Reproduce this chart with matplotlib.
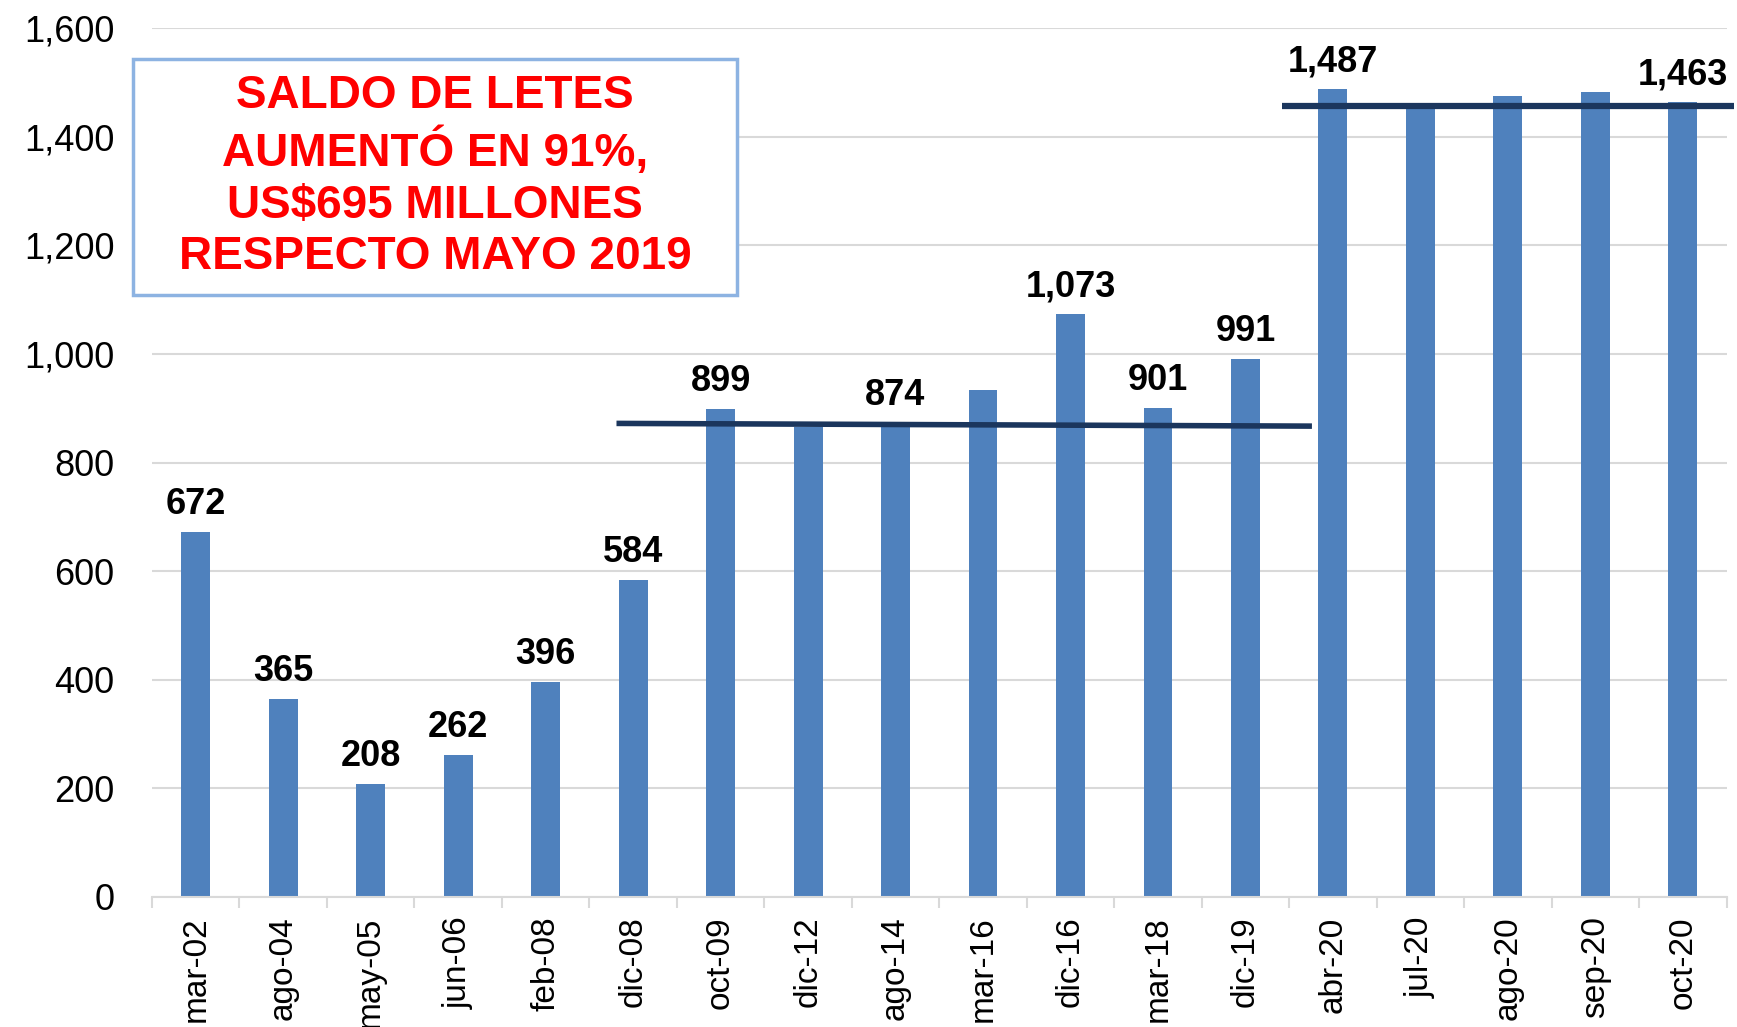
import matplotlib.pyplot as plt
from matplotlib.patches import Rectangle

plt.rcParams['font.family'] = ['Liberation Sans', 'DejaVu Sans']

categories = ['mar-02', 'ago-04', 'may-05', 'jun-06', 'feb-08', 'dic-08', 'oct-09',
              'dic-12', 'ago-14', 'mar-16', 'dic-16', 'mar-18', 'dic-19', 'abr-20',
              'jul-20', 'ago-20', 'sep-20', 'oct-20']
values = [672, 365, 208, 262, 396, 584, 899, 866, 874, 934, 1073, 901, 991, 1487,
          1452, 1474, 1482, 1463]
labeled = [True, True, True, True, True, True, True, False, True, False, True, True,
           True, True, False, False, False, True]

# trend lines drawn over the bars (x in category units)
low_line_x = [4.81, 12.76]
low_line_y = [872, 867]
high_line_x = [12.42, 17.58]
high_line_y = [1456, 1456]

box_lines = ['SALDO DE LETES', 'AUMENTÓ EN 91%,', 'US$695 MILLONES', 'RESPECTO MAYO 2019']

bar_color = '#4F81BD'
line_color = '#1B365D'
grid_color = '#D9D9D9'

fig = plt.figure(figsize=(17.37, 10.27), dpi=100)
ax = fig.add_axes([0.0875, 0.1266, 0.9065, 0.8461])

x = list(range(len(categories)))
ax.bar(x, values, width=0.33, color=bar_color, zorder=2)

for xi, v, show in zip(x, values, labeled):
    if show:
        ax.annotate(f'{v:,}', (xi, v), xytext=(0, 7), textcoords='offset points',
                    ha='center', va='bottom', fontsize=26, fontweight='bold', zorder=4)

ax.plot(low_line_x, low_line_y, color=line_color, lw=4, zorder=3, solid_capstyle='butt')
ax.plot(high_line_x, high_line_y, color=line_color, lw=4.5, zorder=3, clip_on=False,
        solid_capstyle='butt')

ax.set_xlim(-0.5, len(categories) - 0.5)
ax.set_ylim(0, 1600)
ax.set_yticks(range(0, 1601, 200))
ax.set_yticklabels([f'{t:,}' for t in range(0, 1601, 200)])
ax.yaxis.grid(True, color=grid_color, lw=1.5, zorder=0)
ax.set_axisbelow(True)

ax.set_xticks(x)
ax.set_xticklabels(categories, rotation=90)
ax.set_xticks([i - 0.5 for i in range(len(categories) + 1)], minor=True)
ax.tick_params(axis='x', which='major', length=0, pad=14, labelsize=24)
ax.tick_params(axis='x', which='minor', length=8, width=1.5, color=grid_color)
ax.tick_params(axis='y', length=0, pad=27, labelsize=26)

for side in ['top', 'right', 'left']:
    ax.spines[side].set_visible(False)
ax.spines['bottom'].set_color(grid_color)
ax.spines['bottom'].set_linewidth(1.5)

# annotation box
fig.patches.append(Rectangle((0.0766, 0.7128), 0.3477, 0.2298, transform=fig.transFigure,
                             facecolor='white', edgecolor='#8DB3E2', lw=2.5, zorder=5))
fig.text(0.2505, 0.8277, '\n'.join(box_lines), ha='center', va='center', color='#FF0000',
         fontsize=33, fontweight='bold', linespacing=1.23, zorder=6)

fig.savefig('out.png', dpi=100)
